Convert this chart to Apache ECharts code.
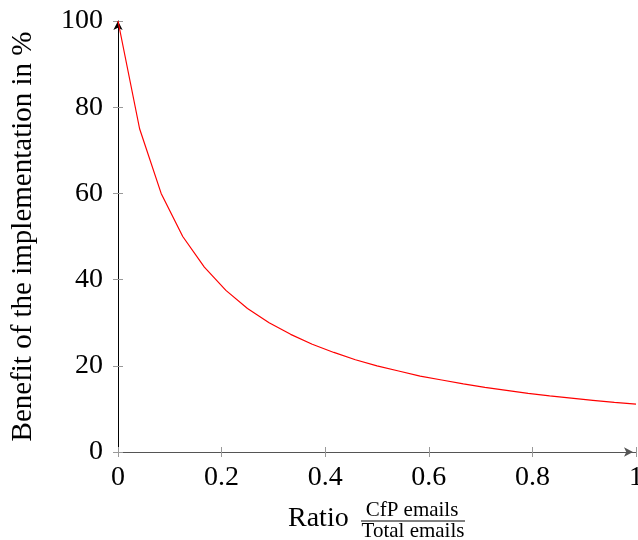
<!DOCTYPE html>
<html>
<head>
<meta charset="utf-8">
<script src="https://cdn.jsdelivr.net/npm/echarts@6/dist/echarts.min.js"></script>
<style>html,body{margin:0;padding:0;background:#fff}#c{width:638px;height:540px}</style>
</head>
<body>
<div id="c"></div>
<script>
const ratio = [0, 0.0417, 0.0833, 0.125, 0.1667, 0.2083, 0.25, 0.2917, 0.3333, 0.375, 0.4167, 0.4583, 0.5, 0.5417, 0.5833, 0.625, 0.6667, 0.7083, 0.75, 0.7917, 0.8333, 0.875, 0.9167, 0.9583, 1];
const benefit = [100, 75, 60, 50, 42.9, 37.5, 33.3, 30, 27.3, 25, 23.1, 21.4, 20, 18.8, 17.6, 16.7, 15.8, 15, 14.3, 13.6, 13, 12.5, 12, 11.5, 11.1];
const xTickLabels = {0: '0', 0.2: '0.2', 0.4: '0.4', 0.6: '0.6', 0.8: '0.8', 1: '1'};
const yTitle = 'Benefit of the implementation in %';
const xTitle = 'Ratio';
const fracNum = 'CfP emails';
const fracDen = 'Total emails';

const FONT = '"Liberation Serif", "Times New Roman", serif';
const chart = echarts.init(document.getElementById('c'), null, {renderer: 'canvas'});
const tickStyle = {color: '#999', width: 1};
chart.setOption({
  animation: false,
  grid: {left: 118, right: 2, top: 21, bottom: 88, containLabel: false, outerBoundsMode: 'none'},
  xAxis: [{
    type: 'value', min: 0, max: 1, interval: 0.2,
    axisLine: {show: true, lineStyle: {color: '#555', width: 1}, symbol: ['none', 'arrow'], symbolSize: [7, 9], symbolOffset: [0, -3]},
    axisTick: {show: true, length: 5, lineStyle: tickStyle},
    axisLabel: {color: '#000', fontFamily: FONT, fontSize: 28, margin: 12, hideOverlap: false,
      formatter: v => xTickLabels[Math.round(v * 10) / 10] ?? String(v)},
    splitLine: {show: false}
  }, {
    type: 'value', min: 0, max: 1, interval: 0.2, position: 'bottom',
    axisLine: {show: false},
    axisTick: {show: true, inside: true, length: 5, lineStyle: tickStyle},
    axisLabel: {show: false}, splitLine: {show: false}
  }],
  yAxis: [{
    type: 'value', min: 0, max: 100, interval: 20,
    name: yTitle, nameLocation: 'middle', nameRotate: 90, nameGap: 80,
    nameTextStyle: {color: '#000', fontFamily: FONT, fontSize: 29},
    axisLine: {show: true, lineStyle: {color: '#000', width: 1}, symbol: ['none', 'arrow'], symbolSize: [7, 9], symbolOffset: [0, 0]},
    axisTick: {show: true, length: 5, lineStyle: tickStyle},
    axisLabel: {color: '#000', fontFamily: FONT, fontSize: 28, margin: 15},
    splitLine: {show: false}
  }, {
    type: 'value', min: 0, max: 100, interval: 20, position: 'left',
    axisLine: {show: false},
    axisTick: {show: true, inside: true, length: 5, lineStyle: tickStyle},
    axisLabel: {show: false}, splitLine: {show: false}
  }],
  series: [{
    type: 'line', xAxisIndex: 0, yAxisIndex: 0,
    data: ratio.map((x, i) => [x, benefit[i]]),
    showSymbol: false, smooth: false,
    lineStyle: {color: '#ff0000', width: 1.2},
    z: 1
  }],
  graphic: [
    {type: 'text', left: 288, top: 505, style: {text: xTitle, font: '28px ' + FONT, fill: '#000'}},
    {type: 'text', x: 412, y: 510, style: {text: fracNum, font: '21px ' + FONT, fill: '#000', textAlign: 'center', textVerticalAlign: 'middle'}},
    {type: 'line', shape: {x1: 361, y1: 521, x2: 465, y2: 521}, style: {stroke: '#000', lineWidth: 1}},
    {type: 'text', x: 413, y: 531, style: {text: fracDen, font: '21px ' + FONT, fill: '#000', textAlign: 'center', textVerticalAlign: 'middle'}}
  ]
});
</script>
</body>
</html>
